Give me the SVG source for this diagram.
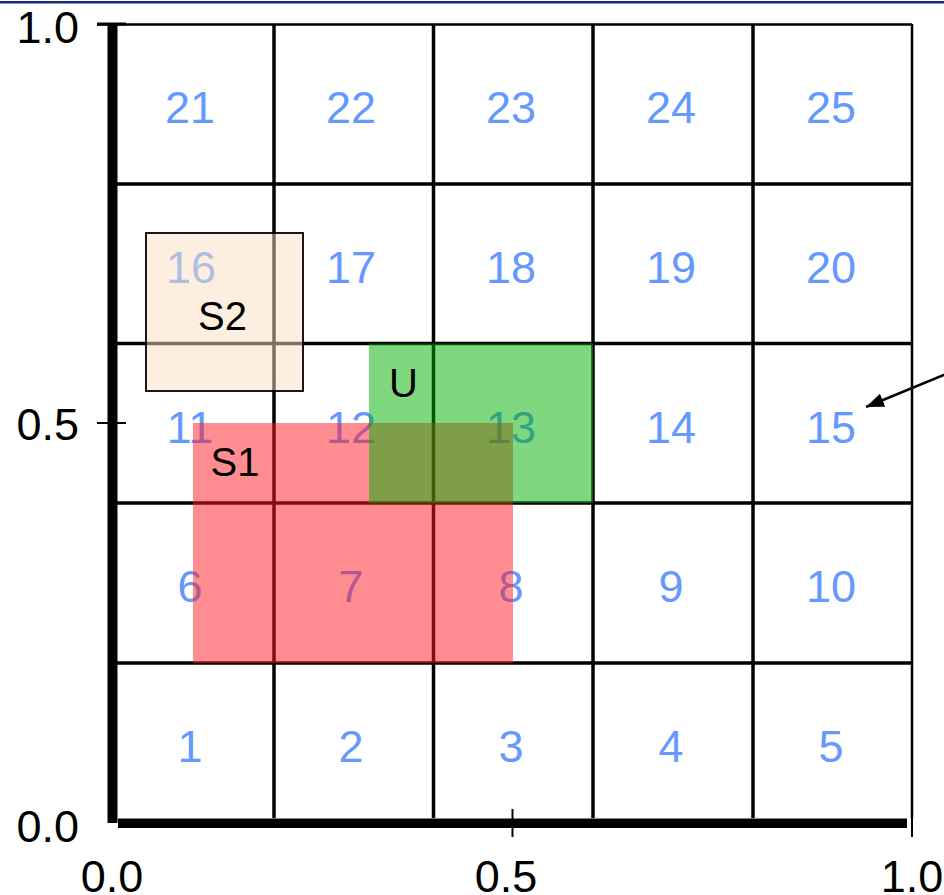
<svg xmlns="http://www.w3.org/2000/svg" width="944" height="895" viewBox="0 0 944 895">
<defs>
<style>
.grid{stroke:#000;stroke-width:3.5;fill:none}
.tick{stroke:#000;stroke-width:2;fill:none}
.num{font-family:"Liberation Sans",Arial,sans-serif;font-size:45px;fill:#6699ff;text-anchor:middle}
.lbl{font-family:"Liberation Sans",Arial,sans-serif;font-size:40px;fill:#000;text-anchor:middle}
.ax{font-family:"Liberation Sans",Arial,sans-serif;font-size:45px;fill:#000}
</style>
<marker id="ah" viewBox="0 0 18 14" refX="18" refY="7" markerWidth="18" markerHeight="14" markerUnits="userSpaceOnUse" orient="auto">
<path d="M0,0 L18,7 L0,14 Z" fill="#000"/>
</marker>
</defs>
<rect width="944" height="895" fill="#fff"/>
<line x1="0" y1="2.2" x2="944" y2="2.2" stroke="#1b2a80" stroke-width="2.5"/>
<g id="grid">
<line class="grid" x1="117" y1="184" x2="912" y2="184"/>
<line class="grid" x1="117" y1="343.5" x2="912" y2="343.5"/>
<line class="grid" x1="117" y1="503" x2="912" y2="503"/>
<line class="grid" x1="117" y1="663" x2="912" y2="663"/>
<line class="grid" x1="274" y1="24" x2="274" y2="818"/>
<line class="grid" x1="433.5" y1="24" x2="433.5" y2="818"/>
<line class="grid" x1="593" y1="24" x2="593" y2="818"/>
<line class="grid" x1="753" y1="24" x2="753" y2="818"/>
<line x1="912" y1="24" x2="912" y2="818" stroke="#000" stroke-width="2.5"/>
<line x1="97" y1="24.5" x2="912" y2="24.5" stroke="#000" stroke-width="2.5"/>
</g>
<g id="axes">
<rect x="107.5" y="24" width="10" height="799" fill="#000"/>
<rect x="118" y="818.5" width="789" height="9.5" fill="#000"/>
<line x1="97" y1="24" x2="126" y2="24" stroke="#000" stroke-width="3"/>
<line class="tick" x1="97" y1="423" x2="126" y2="423"/>
<line class="tick" x1="512.5" y1="809" x2="512.5" y2="837"/>
<line class="tick" x1="912" y1="809" x2="912" y2="837"/>
<text class="ax" x="79" y="43" text-anchor="end">1.0</text>
<text class="ax" x="79" y="440" text-anchor="end">0.5</text>
<text class="ax" x="79" y="842" text-anchor="end">0.0</text>
<text class="ax" x="112" y="892" text-anchor="middle">0.0</text>
<text class="ax" x="506" y="892" text-anchor="middle">0.5</text>
<text class="ax" x="912" y="892" text-anchor="middle">1.0</text>
</g>
<g id="cell-21"><text class="num" x="190" y="123">21</text></g>
<g id="cell-22"><text class="num" x="351" y="123">22</text></g>
<g id="cell-23"><text class="num" x="511" y="123">23</text></g>
<g id="cell-24"><text class="num" x="671" y="123">24</text></g>
<g id="cell-25"><text class="num" x="831" y="123">25</text></g>
<g id="cell-16"><text class="num" x="191" y="283">16</text></g>
<g id="cell-17"><text class="num" x="351" y="283">17</text></g>
<g id="cell-18"><text class="num" x="511" y="283">18</text></g>
<g id="cell-19"><text class="num" x="671" y="283">19</text></g>
<g id="cell-20"><text class="num" x="831" y="283">20</text></g>
<g id="cell-11"><text class="num" x="190" y="443">11</text></g>
<g id="cell-12"><text class="num" x="351" y="443">12</text></g>
<g id="cell-13"><text class="num" x="511" y="443">13</text></g>
<g id="cell-14"><text class="num" x="671" y="443">14</text></g>
<g id="cell-15"><text class="num" x="831" y="443">15</text></g>
<g id="cell-6"><text class="num" x="190" y="602">6</text></g>
<g id="cell-7"><text class="num" x="351" y="602">7</text></g>
<g id="cell-8"><text class="num" x="511" y="602">8</text></g>
<g id="cell-9"><text class="num" x="671" y="602">9</text></g>
<g id="cell-10"><text class="num" x="831" y="602">10</text></g>
<g id="cell-1"><text class="num" x="190" y="762">1</text></g>
<g id="cell-2"><text class="num" x="351" y="762">2</text></g>
<g id="cell-3"><text class="num" x="511" y="762">3</text></g>
<g id="cell-4"><text class="num" x="671" y="762">4</text></g>
<g id="cell-5"><text class="num" x="831" y="762">5</text></g>
<g id="S1">
<rect x="193" y="423" width="320" height="240" fill="#ff1923" fill-opacity="0.5"/>
<text class="lbl" x="235" y="476">S1</text>
</g>
<g id="U">
<rect x="369" y="343.5" width="224" height="159.5" fill="#00af00" fill-opacity="0.5"/>
<text class="lbl" x="403.5" y="397">U</text>
</g>
<g id="S2">
<rect x="146" y="233" width="157" height="158" fill="#f9e0c2" fill-opacity="0.5" stroke="#000" stroke-width="1.8"/>
<text class="lbl" x="222.5" y="330">S2</text>
</g>
<g id="connectors">
<line x1="950" y1="372.5" x2="866" y2="407" stroke="#000" stroke-width="2.5" marker-end="url(#ah)"/>
</g>
</svg>
